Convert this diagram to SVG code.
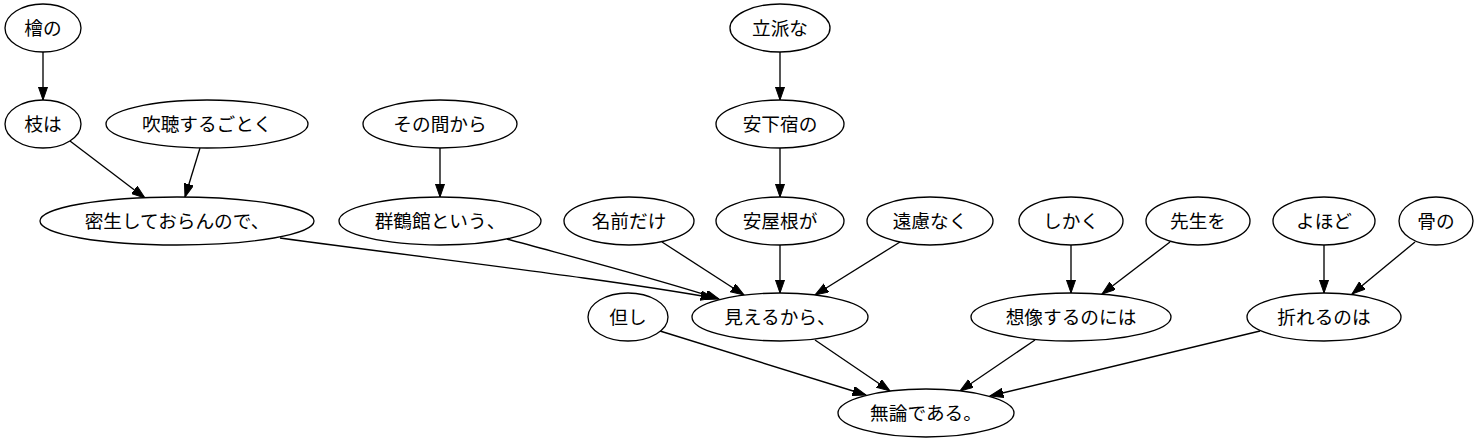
<svg xmlns="http://www.w3.org/2000/svg" width="1483" height="443" viewBox="0 0 1483 443">
<style>
.n ellipse{fill:#fff;stroke:#000;stroke-width:1.33}
.n text{font-family:"Noto Sans CJK JP","Noto Sans",sans-serif;font-size:18.67px;text-anchor:middle;fill:#000}
.e path{fill:none;stroke:#000;stroke-width:1.33;marker-end:url(#arr)}
</style>
<defs>
<marker id="arr" markerUnits="userSpaceOnUse" markerWidth="14" markerHeight="10" refX="13.33" refY="4.67" orient="auto"><path d="M0,0 L13.33,4.67 L0,9.33 Z" fill="#000" stroke="#000" stroke-width="1"/></marker>
</defs>
<rect width="1483" height="443" fill="#fff"/>
<g id="connectors" class="e">
<path d="M43,52 L43,100"/>
<path d="M70,141 L145,198"/>
<path d="M200,148 L185,197"/>
<path d="M440,148 L440,197"/>
<path d="M280,238 C450,261 600,278 714,298"/>
<path d="M507,239 C580,259 650,277 719,299"/>
<path d="M662,242 L744,295"/>
<path d="M780,245 L780,293"/>
<path d="M900,242 L815,295"/>
<path d="M780,52 L780,100"/>
<path d="M780,148 L780,197"/>
<path d="M1071,245 L1071,293"/>
<path d="M1170,242 L1102,294"/>
<path d="M1324,245 L1324,293"/>
<path d="M1415,242 L1352,294"/>
<path d="M660,331 L866,395"/>
<path d="M815,340 L890,391"/>
<path d="M1035,340 L960,391"/>
<path d="M1260,331 L990,396"/>
</g>
<g id="n1" class="n"><ellipse cx="43" cy="28" rx="38" ry="24"/><text x="43" y="35">檜の</text></g>
<g id="n2" class="n"><ellipse cx="43" cy="124" rx="38" ry="24"/><text x="43" y="131">枝は</text></g>
<g id="n3" class="n"><ellipse cx="207" cy="124" rx="101" ry="24"/><text x="207" y="131">吹聴するごとく</text></g>
<g id="n4" class="n"><ellipse cx="177" cy="221" rx="137" ry="24"/><text x="177" y="228">密生しておらんので、</text></g>
<g id="n5" class="n"><ellipse cx="440" cy="124" rx="77" ry="24"/><text x="440" y="131">その間から</text></g>
<g id="n6" class="n"><ellipse cx="440" cy="221" rx="101" ry="24"/><text x="440" y="228">群鶴館という、</text></g>
<g id="n7" class="n"><ellipse cx="629" cy="221" rx="65" ry="24"/><text x="629" y="228">名前だけ</text></g>
<g id="n8" class="n"><ellipse cx="780" cy="28" rx="50" ry="24"/><text x="780" y="35">立派な</text></g>
<g id="n9" class="n"><ellipse cx="780" cy="124" rx="64" ry="24"/><text x="780" y="131">安下宿の</text></g>
<g id="n10" class="n"><ellipse cx="780" cy="221" rx="64" ry="24"/><text x="780" y="228">安屋根が</text></g>
<g id="n11" class="n"><ellipse cx="930" cy="221" rx="63" ry="24"/><text x="930" y="228">遠慮なく</text></g>
<g id="n12" class="n"><ellipse cx="780" cy="317" rx="88" ry="24"/><text x="780" y="324">見えるから、</text></g>
<g id="n13" class="n"><ellipse cx="628" cy="317" rx="40" ry="24"/><text x="628" y="324">但し</text></g>
<g id="n14" class="n"><ellipse cx="1071" cy="221" rx="52" ry="24"/><text x="1071" y="228">しかく</text></g>
<g id="n15" class="n"><ellipse cx="1198" cy="221" rx="52" ry="24"/><text x="1198" y="228">先生を</text></g>
<g id="n16" class="n"><ellipse cx="1071" cy="317" rx="100" ry="24"/><text x="1071" y="324">想像するのには</text></g>
<g id="n17" class="n"><ellipse cx="1324" cy="221" rx="51" ry="24"/><text x="1324" y="228">よほど</text></g>
<g id="n18" class="n"><ellipse cx="1436" cy="221" rx="37" ry="24"/><text x="1436" y="228">骨の</text></g>
<g id="n19" class="n"><ellipse cx="1324" cy="317" rx="77" ry="24"/><text x="1324" y="324">折れるのは</text></g>
<g id="n20" class="n"><ellipse cx="926" cy="413" rx="88" ry="24"/><text x="926" y="420">無論である。</text></g>
</svg>
